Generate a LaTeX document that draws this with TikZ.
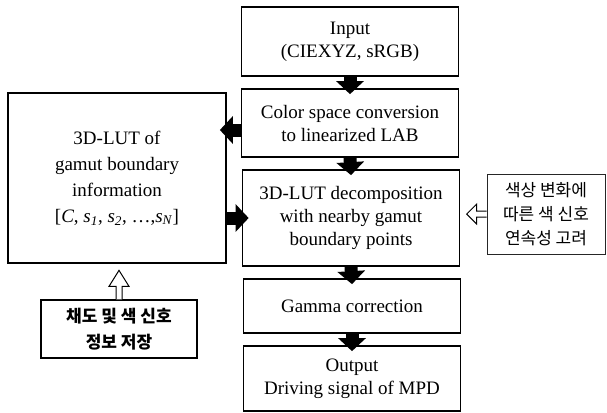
\documentclass[tikz,border=0pt]{standalone}
\usepackage{fontspec}
\setmainfont{Liberation Serif}
\newfontfamily\kr{Noto Sans CJK KR}
\usetikzlibrary{arrows.meta,calc}
\begin{document}
\begin{tikzpicture}[x=1pt,y=-1pt,
  mainbox/.style={draw, line width=1.7pt, minimum width=217pt, inner sep=0pt, align=center, font=\fontsize{19}{23}\selectfont},
  lutbox/.style={draw, line width=1.7pt, minimum width=218pt, minimum height=170pt, inner sep=0pt, align=center, font=\fontsize{19}{26}\selectfont},
  krbox/.style={draw, line width=1.3pt, minimum width=156pt, minimum height=58pt, inner sep=0pt, align=center, font=\kr\bfseries\fontsize{17}{26}\selectfont},
  krnote/.style={draw=black!85, line width=0.6pt, minimum width=118pt, minimum height=80pt, inner sep=0pt, align=center, font=\kr\fontsize{17}{24}\selectfont},
  blockarrow/.style={line width=13pt, -{Triangle[width=27pt,length=13pt]}},
  hollow/.style={draw, line width=1pt, fill=white, line join=miter},
]
\useasboundingbox (0,0) rectangle (607,412);
% main column
\node[mainbox, minimum height=69pt] (in)  at (350,41.5) {Input\\(CIEXYZ, sRGB)};
\node[mainbox, minimum height=68pt] (csc) at (350,123) {Color space conversion\\to linearized LAB};
\node[mainbox, minimum height=96pt] (dec) at (351,218) {3D-LUT decomposition\\with nearby gamut\\boundary points};
\node[mainbox, minimum height=54pt] (gam) at (352,306) {Gamma correction};
\node[mainbox, minimum height=65pt] (out) at (352,378.5) {Output\\Driving signal of MPD};
% left side
\node[lutbox] (lut) at (117,178) {3D-LUT of\\gamut boundary\\information\\{[}\textit{C}, \textit{s}\textsubscript{\textit{1}}, \textit{s}\textsubscript{\textit{2}}, \ldots,\textit{s}\textsubscript{\textit{N}}{]}};
\node[krbox] (kr1) at (119,329) {채도 및 색 신호\\정보 저장};
% right note
\node[krnote] (kr2) at (546,214) {색상 변화에\\따른 색 신호\\연속성 고려};
% block arrows
\draw[blockarrow] (in.south) -- ($(csc.north)+(0,6)$);
\draw[blockarrow] (csc.south) -- ($(dec.north)+(0,6)$);
\draw[blockarrow] (dec.south) -- ($(gam.north)+(0,6)$);
\draw[blockarrow] (gam.south) -- ($(out.north)+(0,6)$);
\draw[blockarrow] ($(csc.west)+(0,7)$) -- ($(lut.east |- csc.west)+(-7,7)$);
\draw[blockarrow] (lut.east |- dec.west) -- ($(dec.west)+(7,0)$);
% hollow arrows
\draw[hollow] ($(kr2.west)+(0,-3)$) -- ++(-10,0) -- ++(0,-7) -- ++(-10,10) -- ++(10,10) -- ++(0,-7) -- ++(10,0);
\draw[hollow] ($(kr1.north)+(-3,0)$) -- ++(0,-13) -- ++(-7,0) -- ++(10,-16) -- ++(10,16) -- ++(-7,0) -- ++(0,13);
\end{tikzpicture}
\end{document}
